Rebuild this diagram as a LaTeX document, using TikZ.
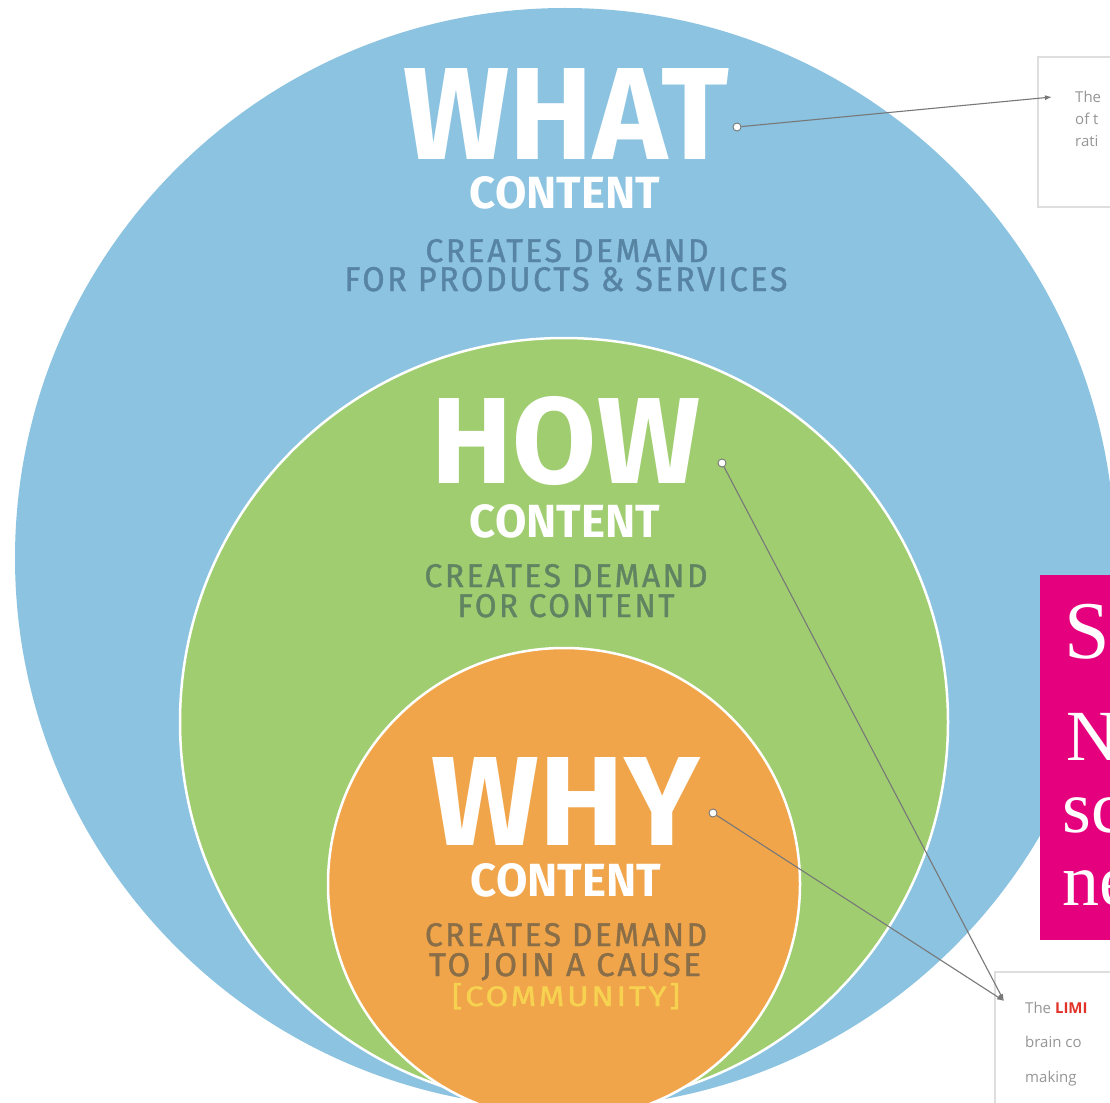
\documentclass[tikz,border=0pt]{standalone}
\usepackage{fontspec}
\usepackage{graphicx}
\setmainfont{Fira Sans}
\newfontfamily\headfont{Fira Sans}
\newfontfamily\subfont[LetterSpace=8, FakeBold=1.2]{Fira Sans}
\newfontfamily\notefont{Open Sans}
\newfontfamily\pinkfont{Liberation Serif}
\usetikzlibrary{arrows.meta}
\definecolor{cblue}{RGB}{139,195,225}
\definecolor{cgreen}{RGB}{160,205,112}
\definecolor{corange}{RGB}{240,165,75}
\definecolor{tblue}{RGB}{88,132,163}
\definecolor{tgreen}{RGB}{96,132,98}
\definecolor{torange}{RGB}{138,110,72}
\definecolor{tyellow}{RGB}{247,210,80}
\definecolor{cpink}{RGB}{229,0,125}
\definecolor{cline}{RGB}{120,120,120}
\definecolor{cbox}{RGB}{222,222,222}
\definecolor{cnote}{RGB}{150,150,150}
\definecolor{cred}{RGB}{225,50,40}
\newcommand{\fitbox}[3]{\resizebox{#1pt}{#2pt}{#3}}
\begin{document}
\begin{tikzpicture}[x=1pt,y=-1pt,
  txt/.style={inner sep=0pt, anchor=base},
  dot/.style={circle, fill=white, draw=cline, line width=0.9pt, inner sep=0pt, minimum size=8pt},
  conn/.style={draw=cline, line width=1.1pt, -{Latex[length=7pt,width=5pt]}},
  notebox/.style={draw=cbox, line width=2pt, fill=white},
  note/.style={inner sep=0pt, anchor=base west, text=cnote, font=\notefont\fontsize{15}{15}\selectfont},
  pinktxt/.style={inner sep=0pt, anchor=base west, text=white}]
\useasboundingbox (0,0) rectangle (1110,1102);
\clip (0,0) rectangle (1110,1102);
\fill[white] (0,0) rectangle (1110,1102);
% circles
\fill[cblue] (565,558) circle[radius=550pt];
\filldraw[fill=cgreen, draw=white, line width=2.5pt] (564,722) circle[radius=384pt];
\filldraw[fill=corange, draw=white, line width=2.5pt] (564,884) circle[radius=236pt];
% WHAT
\node[txt, text=white] (what) at (566,160) {\fitbox{325}{91}{\headfont\bfseries WHAT}};
\node[txt, text=white] (whatc) at (565,208) {\fitbox{190}{32}{\headfont\bfseries CONTENT}};
\node[txt, text=tblue] (whats1) at (567,262) {\fitbox{283}{23}{\subfont CREATES DEMAND}};
\node[txt, text=tblue] (whats2) at (566,291) {\fitbox{443}{24}{\subfont FOR PRODUCTS \& SERVICES}};
% HOW
\node[txt, text=white] (how) at (566,483) {\fitbox{268}{87}{\headfont\bfseries HOW}};
\node[txt, text=white] (howc) at (565,537) {\fitbox{190}{33}{\headfont\bfseries CONTENT}};
\node[txt, text=tgreen] (hows1) at (566,587) {\fitbox{283}{23}{\subfont CREATES DEMAND}};
\node[txt, text=tgreen] (hows2) at (566,617) {\fitbox{217}{23}{\subfont FOR CONTENT}};
% WHY
\node[txt, text=white] (why) at (566,845) {\fitbox{268}{88}{\headfont\bfseries WHY}};
\node[txt, text=white] (whyc) at (566,896) {\fitbox{190}{33}{\headfont\bfseries CONTENT}};
\node[txt, text=torange] (whys1) at (566,946) {\fitbox{282}{23}{\subfont CREATES DEMAND}};
\node[txt, text=torange] (whys2) at (565,976) {\fitbox{272}{23}{\subfont TO JOIN A CAUSE}};
\node[txt, text=tyellow] (whys3) at (566,1006) {\fitbox{228}{23}{\subfont [COMMUNITY]}};
% note boxes
\draw[notebox] (1038,57) rectangle (1140,207);
\node[note] (n1a) at (1075,103) {The};
\node[note] (n1b) at (1075,125) {of t};
\node[note] (n1c) at (1075,147) {rati};
\draw[notebox] (995,972) rectangle (1140,1130);
\node[note] (n2a) at (1025,1013) {The \textcolor{cred}{\bfseries LIMI}};
\node[note] (n2b) at (1025,1047) {brain co};
\node[note] (n2c) at (1025,1082) {making};
% pink box
\fill[cpink] (1040,575) rectangle (1140,940);
\node[pinktxt] (p1) at (1064,658) {\pinkfont\fontsize{82}{82}\selectfont S};
\node[pinktxt] (p2) at (1066,760) {\pinkfont\fontsize{72}{72}\selectfont N};
\node[pinktxt] (p3) at (1062,832) {\pinkfont\fontsize{74}{74}\selectfont sc};
\node[pinktxt] (p4) at (1062,905) {\pinkfont\fontsize{74}{74}\selectfont ne};
% dots and connectors
\node[dot] (dwhat) at (737,127) {};
\node[dot] (dhow) at (722,463) {};
\node[dot] (dwhy) at (713,813) {};
\coordinate (twhat) at (1052,97);
\coordinate (tlimb) at (1004,1001);
\draw[conn] (dwhat) -- (twhat);
\draw[conn] (dhow) -- (tlimb);
\draw[conn] (dwhy) -- (tlimb);
\end{tikzpicture}
\end{document}
